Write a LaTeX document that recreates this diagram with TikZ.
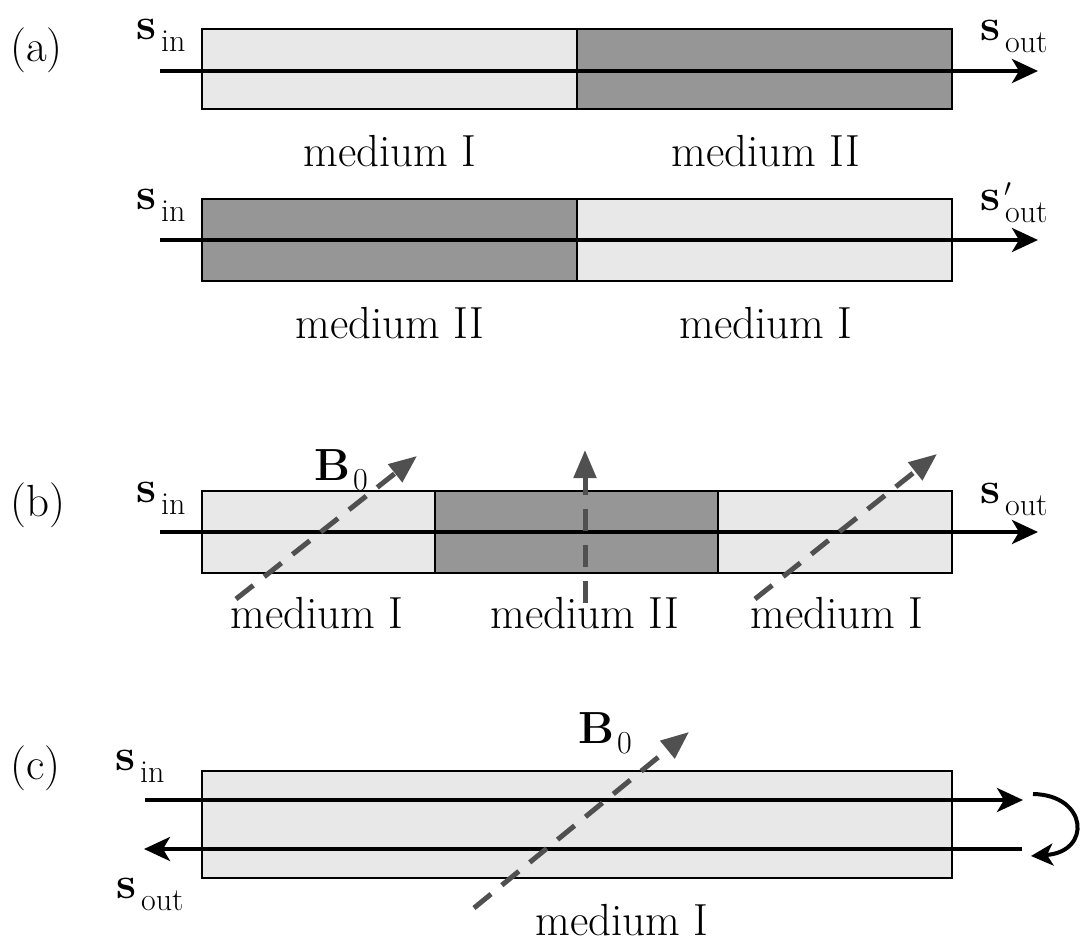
\documentclass[tikz,border=0pt]{standalone}
\usepackage{fontspec}
\usetikzlibrary{arrows.meta}
\definecolor{lightmed}{HTML}{E8E8E8}
\definecolor{darkmed}{HTML}{969696}
\definecolor{bfield}{HTML}{505050}
\newcommand\svec[1]{{\bfseries s}\kern5pt\raisebox{-12pt}{\fontsize{32}{40}\selectfont #1}}
\newcommand\svecp[1]{{\bfseries s}\kern5pt\raisebox{-12pt}{\fontsize{32}{40}\selectfont\rlap{\raisebox{26pt}{\kern-1pt$\prime$}}#1}}
\newcommand\bvec{{\bfseries B}\kern3pt\raisebox{-10pt}{\fontsize{32}{40}\selectfont 0}}
\tikzset{
  medlight/.style={draw=black, line width=2.2pt, fill=lightmed},
  meddark/.style={draw=black, line width=2.2pt, fill=darkmed},
  beam/.style={line width=4pt, -{Stealth[length=26pt,width=24pt,inset=7pt]}},
  field/.style={draw=bfield, line width=5pt, dash pattern=on 22pt off 14pt, -{Triangle[length=28pt,width=22pt]}},
  txt/.style={font=\fontsize{45}{54}\selectfont, inner sep=0pt},
  sym/.style={font=\fontsize{45}{54}\selectfont, inner sep=0pt, anchor=base west},
}
\begin{document}
\begin{tikzpicture}[x=1pt,y=-1pt]
\useasboundingbox (0,0) rectangle (1080,947);
% ---------- (a) ----------
\node[sym] (la) at (10,62) {(a)};
\draw[medlight] (202,29) rectangle (577,109);
\draw[meddark] (577,29) rectangle (952,109);
\coordinate (a1s) at (160,71);
\coordinate (a1e) at (1038,71);
\draw[beam] (a1s) -- (a1e);
\node[sym] (a1in) at (136,40) {\svec{in}};
\node[sym] (a1out) at (980,41) {\svec{out}};
\node[txt, anchor=base] (a1m1) at (390,167) {medium I};
\node[txt, anchor=base] (a1m2) at (766,167) {medium II};

\draw[meddark] (202,199) rectangle (577,281);
\draw[medlight] (577,199) rectangle (952,281);
\coordinate (a2s) at (160,240);
\coordinate (a2e) at (1038,240);
\draw[beam] (a2s) -- (a2e);
\node[sym] (a2in) at (136,210) {\svec{in}};
\node[sym] (a2out) at (980,211) {\svecp{out}};
\node[txt, anchor=base] (a2m1) at (390,338) {medium II};
\node[txt, anchor=base] (a2m2) at (766,338) {medium I};

% ---------- (b) ----------
\node[sym] (lb) at (10,516) {(b)};
\draw[medlight] (202,491) rectangle (435,573);
\draw[meddark] (435,491) rectangle (718,573);
\draw[medlight] (718,491) rectangle (952,573);
\coordinate (bs) at (160,532);
\coordinate (be) at (1038,532);
\draw[beam] (bs) -- (be);
\coordinate (bf1s) at (236,599);
\coordinate (bf1e) at (417,456);
\coordinate (bf2s) at (585,603);
\coordinate (bf2e) at (585,450);
\coordinate (bf3s) at (755,599);
\coordinate (bf3e) at (937,454);
\draw[field] (bf1s) -- (bf1e);
\draw[field] (bf2s) -- (bf2e);
\draw[field] (bf3s) -- (bf3e);
\node[sym] (bin) at (136,502) {\svec{in}};
\node[sym] (bout) at (980,503) {\svec{out}};
\node[sym] (bB) at (314,480) {\bvec};
\node[txt, anchor=base] (bm1) at (317,628) {medium I};
\node[txt, anchor=base] (bm2) at (585,628) {medium II};
\node[txt, anchor=base] (bm3) at (837,628) {medium I};

% ---------- (c) ----------
\node[sym] (lc) at (10,779) {(c)};
\draw[medlight] (202,771) rectangle (952,878);
\coordinate (c1s) at (145,800);
\coordinate (c1e) at (1023,800);
\coordinate (c2s) at (1022,849);
\coordinate (c2e) at (144,849);
\draw[beam] (c1s) -- (c1e);
\draw[beam] (c2s) -- (c2e);
\coordinate (crs) at (1033,794);
\coordinate (cre) at (1031,856);
\draw[line width=4pt, -{Stealth[length=22pt,width=22pt,inset=6pt]}] (crs) .. controls (1088,795) and (1092,852) .. (cre);
\coordinate (cfs) at (474,908);
\coordinate (cfe) at (689,732);
\draw[field] (cfs) -- (cfe);
\node[sym] (cin) at (115,770) {\svec{in}};
\node[sym] (cout) at (116,898) {\svec{out}};
\node[sym] (cB) at (578,743) {\bvec};
\node[txt, anchor=base] (cm1) at (622,935) {medium I};
\end{tikzpicture}
\end{document}
